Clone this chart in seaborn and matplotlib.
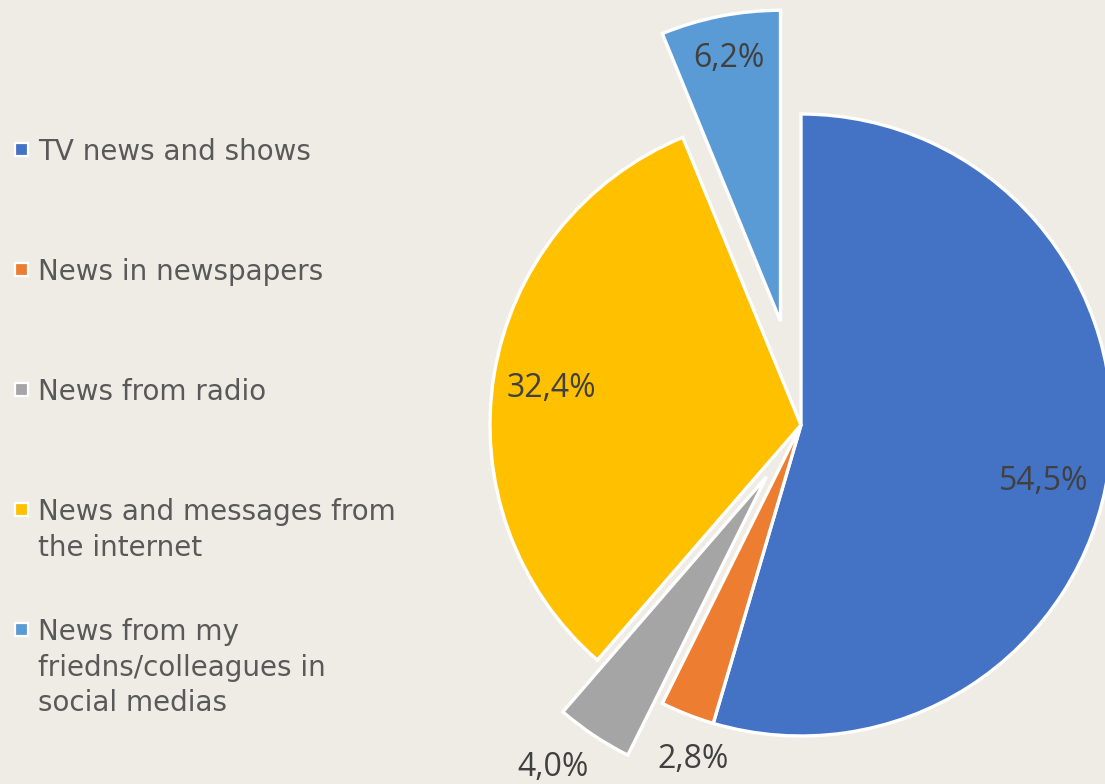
import numpy as np
import matplotlib
matplotlib.use("Agg")
import matplotlib.pyplot as plt
import seaborn as sns
from matplotlib.patches import Rectangle

# Survey shares (%) by news source
sources = [
    "TV news and shows",
    "News in newspapers",
    "News from radio",
    "News and messages from\nthe internet",
    "News from my\nfriedns/colleagues in\nsocial medias",
]
shares = [54.5, 2.8, 4.0, 32.4, 6.2]
share_labels = ["54,5%", "2,8%", "4,0%", "32,4%", "6,2%"]

colors = ["#4472C4", "#ED7D31", "#A5A5A5", "#FFC000", "#5B9BD5"]
explode = [0.0, 0.0, 0.2, 0.0, 0.34]
label_dist = [0.80, 1.13, 1.16, 0.81, 0.86]
label_turn = [-5.0, 3.5, -2.5, 1.0, 0.0]

bg = "#EEECE5"
sns.set_theme(style="white")
plt.rcParams["font.family"] = ["DejaVu Sans"]

W, H = 1105, 784
fig = plt.figure(figsize=(W / 100, H / 100), dpi=100, facecolor=bg)

# Pie axes: unit radius = 311 px, centred at (801, 425) px from top-left
R = 311.0
cx, cy = 801.0, 425.0
ax = fig.add_axes([0, 0, 1, 1])
ax.set_facecolor(bg)

wedges, _ = ax.pie(
    shares,
    colors=colors,
    explode=explode,
    startangle=90,
    counterclock=False,
    radius=1.0,
    wedgeprops=dict(edgecolor="white", linewidth=2.4),
    frame=True,
)
ax.set_xlim(-cx / R, (W - cx) / R)
ax.set_ylim(-(H - cy) / R, cy / R)
ax.set_aspect("auto")
ax.axis("off")

for w, txt, d, turn in zip(wedges, share_labels, label_dist, label_turn):
    mid = np.deg2rad((w.theta1 + w.theta2) / 2 + turn)
    x0, y0 = w.center
    ax.text(x0 + d * np.cos(mid), y0 + d * np.sin(mid), txt,
            ha="center", va="center", fontsize=23, color="#404040",
            family=["Open Sans", "DejaVu Sans"])

# Legend on the left, one entry per source
lax = fig.add_axes([0, 0, 1, 1], facecolor="none")
lax.set_xlim(0, W)
lax.set_ylim(H, 0)
lax.axis("off")
entry_y = [150, 270, 390, 510, 630]
line_step = 35.5
for y, name, c in zip(entry_y, sources, colors):
    lax.add_patch(Rectangle((15, y - 7), 13, 13, facecolor=c,
                            edgecolor="white", linewidth=1.6))
    for i, line in enumerate(name.split("\n")):
        lax.text(38, y + 10 + i * line_step, line, ha="left", va="baseline",
                 fontsize=20, color="#595959")

fig.savefig("out.png", dpi=100, facecolor=bg)
